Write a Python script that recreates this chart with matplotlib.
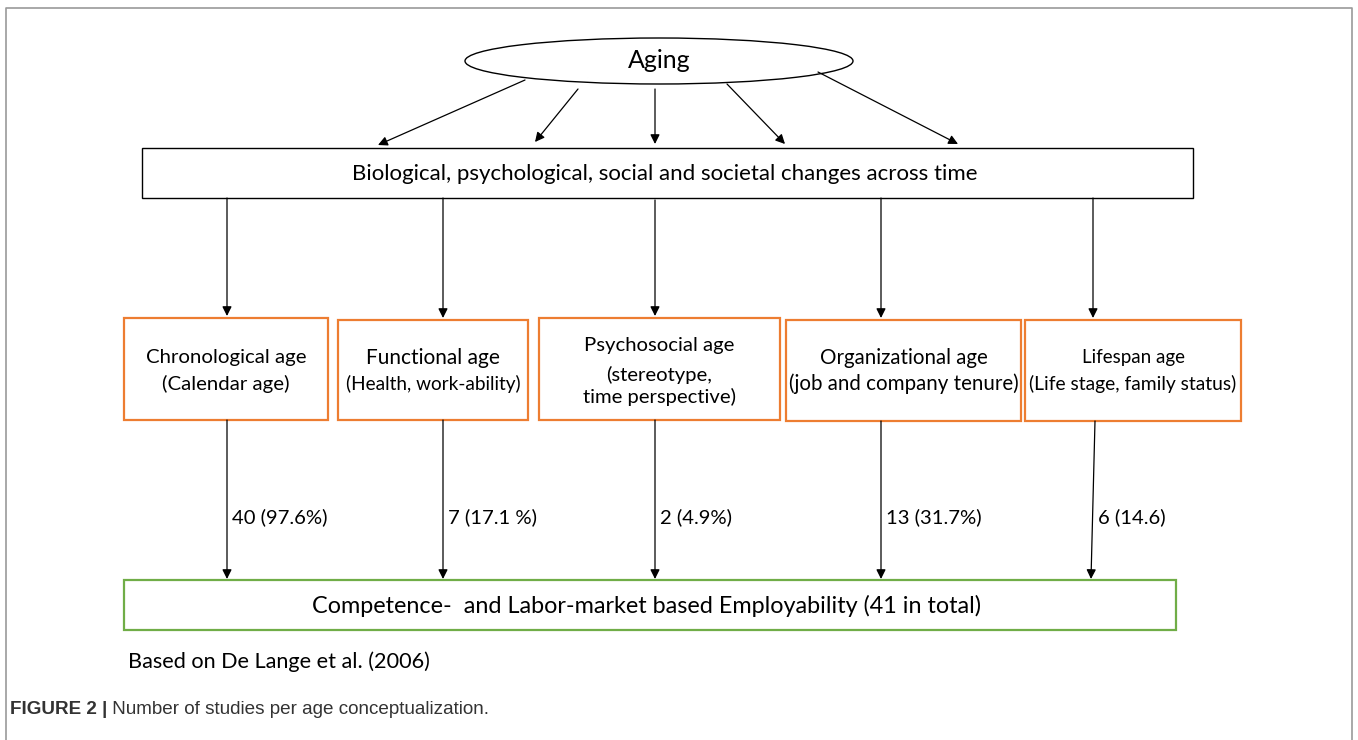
import matplotlib.pyplot as plt
from matplotlib.patches import Ellipse, Rectangle, FancyArrowPatch

# Data
root_label = "Aging"
change_label = "Biological, psychological, social and societal changes across time"
age_titles = ["Chronological age", "Functional age", "Psychosocial age",
              "Organizational age", "Lifespan age"]
age_details = ["(Calendar age)", "(Health, work-ability)", "(stereotype,\ntime perspective)",
               "(job and company tenure)", "(Life stage, family status)"]
study_counts = ["40 (97.6%)", "7 (17.1 %)", "2 (4.9%)", "13 (31.7%)", "6 (14.6)"]
outcome_label = "Competence-  and Labor-market based Employability (41 in total)"
source_note = "Based on De Lange et al. (2006)"

# Layout (pixel coordinates)
W, H = 1358, 740
FONT = ["Lato", "DejaVu Sans"]
orange = "#ED7D31"
green = "#70AD47"

box_x = [(124, 328), (338, 528), (539, 780), (786, 1021), (1025, 1241)]
box_y = [(318, 420), (320, 420), (318, 420), (320, 421), (320, 421)]
line_x = [227, 443, 655, 881, 1093]
title_size = [14.7, 15, 14.6, 14.8, 13.5]
detail_size = [14.7, 13.7, 14.6, 14.8, 13.9]
ell_arrows = [((525, 80), (378, 145)), ((578, 89), (535, 142)), ((655, 89), (655, 144)),
              ((727, 84), (785, 144)), ((818, 72), (958, 144))]

fig = plt.figure(figsize=(W / 100, H / 100), dpi=100)
ax = fig.add_axes([0, 0, 1, 1])
ax.set_xlim(0, W)
ax.set_ylim(H, 0)
ax.axis("off")

# Outer frame
ax.plot([6, 6, 1352, 1352], [H, 8, 8, H], color="#9a9a9a", lw=1.2)


def arrow(p0, p1):
    ax.add_patch(FancyArrowPatch(p0, p1, arrowstyle="-|>", mutation_scale=14,
                                 color="black", lw=0.9, shrinkA=0, shrinkB=0))


# Aging ellipse
ax.add_patch(Ellipse((659, 61), 388, 46, fill=False, ec="black", lw=1))
ax.text(659, 60, root_label, ha="center", va="center", fontsize=18, family=FONT)
for p0, p1 in ell_arrows:
    arrow(p0, p1)

# Changes box
ax.add_patch(Rectangle((142, 148), 1051, 50, fill=False, ec="black", lw=1))
ax.text(665, 174, change_label, ha="center", va="center", fontsize=16, family=FONT)

# Age boxes
for i in range(5):
    x0, x1 = box_x[i]
    y0, y1 = box_y[i]
    cx = (x0 + x1) / 2
    arrow((line_x[i], 198 if i != 2 else 200), (line_x[i], y0 - 2))
    ax.add_patch(Rectangle((x0, y0), x1 - x0, y1 - y0, fill=False, ec=orange, lw=1.6))
    if i == 2:
        ax.text(cx, 345, age_titles[i], ha="center", va="center", fontsize=title_size[i], family=FONT)
        ax.text(cx, 386, age_details[i], ha="center", va="center", fontsize=detail_size[i],
                family=FONT, linespacing=1.2)
    else:
        ax.text(cx, 358, age_titles[i], ha="center", va="center", fontsize=title_size[i],
                family=FONT)
        ax.text(cx, 384, age_details[i], ha="center", va="center", fontsize=detail_size[i],
                family=FONT)
    # arrow down to outcome box
    top_x = line_x[i] + (2 if i == 4 else 0)
    arrow((top_x, y1), (line_x[i] - (2 if i == 4 else 0), 579))
    ax.text(line_x[i] + 5, 517, study_counts[i], ha="left", va="center", fontsize=14.6, family=FONT)

# Outcome box
ax.add_patch(Rectangle((124, 580), 1052, 50, fill=False, ec=green, lw=1.6))
ax.text(647, 606, outcome_label, ha="center", va="center", fontsize=16.8, family=FONT)

ax.text(128, 662, source_note, ha="left", va="center", fontsize=15.6, family=FONT)

# Caption
cap_font = ["Liberation Sans", "DejaVu Sans"]
t = ax.text(10, 709, "FIGURE 2 |", ha="left", va="center", fontsize=13.6,
            family=cap_font, weight="bold", color="#333333")
ax.annotate(" Number of studies per age conceptualization.", xycoords=t, xy=(1, 0.5),
            ha="left", va="center", fontsize=13.6, family=cap_font, color="#333333")

fig.savefig("out.png", dpi=100)
